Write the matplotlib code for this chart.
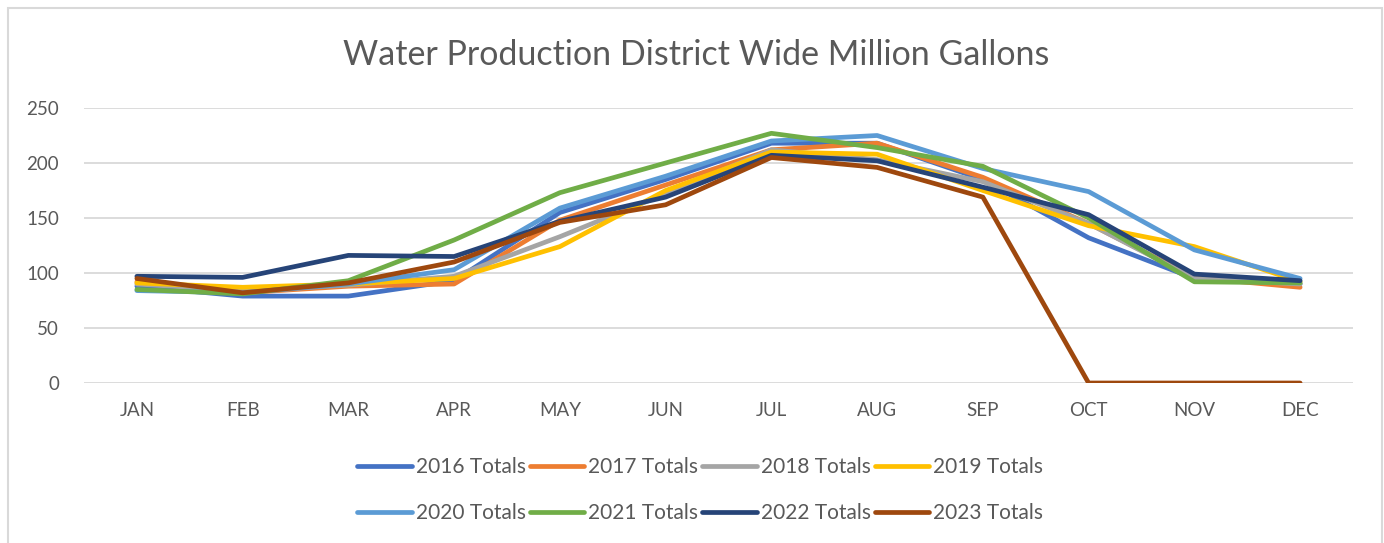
import matplotlib
matplotlib.use("Agg")
import matplotlib.pyplot as plt
from matplotlib.patches import Rectangle

# ------------------------------------ Data ----------------------------------
months = ["JAN", "FEB", "MAR", "APR", "MAY", "JUN", "JUL", "AUG", "SEP", "OCT", "NOV", "DEC"]

totals_2016 = [88, 79, 79, 93, 155, 185, 218, 218, 185, 132, 95, 90]
totals_2017 = [92, 82, 88, 90, 148, 180, 212, 218, 187, 145, 96, 87]
totals_2018 = [90, 84, 89, 97, 133, 172, 212, 203, 183, 145, 95, 90]
totals_2019 = [91, 87, 90, 95, 124, 175, 210, 208, 175, 143, 124, 92]
totals_2020 = [84, 82, 90, 103, 159, 188, 220, 225, 195, 174, 121, 95]
totals_2021 = [85, 81, 93, 130, 173, 200, 227, 214, 197, 150, 92, 91]
totals_2022 = [97, 96, 116, 115, 147, 169, 207, 202, 178, 153, 99, 93]
totals_2023 = [95, 82, 91, 110, 146, 162, 205, 196, 169, 0, 0, 0]

series_labels = ["2016 Totals", "2017 Totals", "2018 Totals", "2019 Totals",
                 "2020 Totals", "2021 Totals", "2022 Totals", "2023 Totals"]
series_values = [totals_2016, totals_2017, totals_2018, totals_2019,
                 totals_2020, totals_2021, totals_2022, totals_2023]
series_colors = ["#4472C4", "#ED7D31", "#A5A5A5", "#FFC000",
                 "#5B9BD5", "#70AD47", "#264478", "#9E480E"]

yticks = [0, 50, 100, 150, 200, 250]

# ------------------------------------ Plot ----------------------------------
plt.rcParams["font.family"] = ["Lato", "DejaVu Sans"]

fig = plt.figure(figsize=(13.84, 5.43), dpi=100)
ax = fig.add_axes([84 / 1384, 1 - 383 / 543, (1353 - 84) / 1384, (383 - 108) / 543])

# chart border
fig.patches.append(Rectangle((8 / 1384, -0.01), (1382 - 8) / 1384, 1 - 8 / 543 + 0.01,
                             transform=fig.transFigure, fill=False,
                             edgecolor="#D9D9D9", linewidth=1.5))

x = list(range(len(months)))
handles = []
for label, vals, color in zip(series_labels, series_values, series_colors):
    line, = ax.plot(x, vals, color=color, linewidth=3.4, label=label,
                    solid_capstyle="round", solid_joinstyle="round")
    handles.append(line)

ax.set_xlim(-0.5, len(months) - 0.5)
ax.set_ylim(0, 250)
ax.set_xticks(x)
ax.set_xticklabels(months)
ax.set_yticks(yticks)
ax.tick_params(axis="both", length=0, labelsize=13.5, colors="#595959")
ax.tick_params(axis="x", pad=14)
ax.tick_params(axis="y", pad=18)
ax.grid(axis="y", color="#D9D9D9", linewidth=1.3)
ax.set_axisbelow(True)
for s in ax.spines.values():
    s.set_visible(False)

fig.text(0.503, 1 - 55 / 543, "Water Production District Wide Million Gallons",
         ha="center", va="center", fontsize=24.5, color="#595959")

# legend fills column by column, so reorder to get rows of four
order = [0, 4, 1, 5, 2, 6, 3, 7]
fig.legend([handles[i] for i in order], [series_labels[i] for i in order],
           loc="center", bbox_to_anchor=(0.506, 1 - 490 / 543), ncol=4, frameon=False,
           fontsize=15, labelcolor="#595959", handlelength=2.6, handletextpad=0.2,
           columnspacing=0.2, labelspacing=1.25)

fig.savefig("out.png", dpi=100, facecolor="white")
